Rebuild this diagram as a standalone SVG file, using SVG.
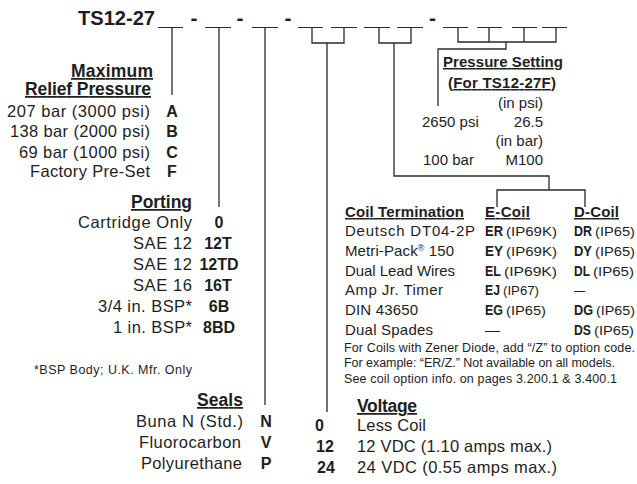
<svg xmlns="http://www.w3.org/2000/svg" width="637" height="484" viewBox="0 0 637 484">
<style>
text{font-family:"Liberation Sans",Arial,Helvetica,sans-serif;fill:#1e1e1e}
.r{font-size:16.5px}
.h{font-size:17.5px;font-weight:bold;text-decoration:underline}
.hs{font-size:15px;font-weight:bold;text-decoration:underline}
.b{font-weight:bold}
.c{font-size:16px;font-weight:bold}
.s{font-size:15px}
.k{font-size:15.5px;font-weight:bold}
.p{font-size:12px}
.f{font-size:12.5px}
.e{text-anchor:end}
.m{text-anchor:middle}
.ln{stroke:#2a2a2a;stroke-width:1.3;fill:none}
.bl{stroke:#2a2a2a;stroke-width:1;fill:none}
</style>
<rect width="637" height="484" fill="#fff"/>

<g id="model-code">
<text x="78" y="25" font-size="21" class="b" textLength="77" lengthAdjust="spacingAndGlyphs">TS12-27</text>
<text x="194" y="25" font-size="21" class="b m">-</text>
<text x="240" y="25" font-size="21" class="b m">-</text>
<text x="288" y="25" font-size="21" class="b m">-</text>
<text x="432.5" y="25" font-size="21" class="b m">-</text>
<path class="bl" d="M158 27.5H183M205 27.5H231M252 27.5H278M298 27.5H323M331 27.5H357M364 27.5H390M397 27.5H423M443 27.5H468M477 27.5H502M512 27.5H537M542 27.5H567"/>
</g>

<g id="connectors">
<path class="ln" d="M172 27.5V95"/>
<path class="ln" d="M219 27.5V207"/>
<path class="ln" d="M265 27.5V405"/>
<path class="ln" d="M312 27.5V43H344V27.5M327 43V412"/>
<path class="ln" d="M379 27.5V43H411V27.5M394 43V176H549V190M497 207V190H585V207"/>
<path class="ln" d="M458 27.5V42H556V27.5M489 27.5V42M524 27.5V42M506 42V49H438V106"/>
</g>

<g id="relief-pressure">
<text x="153" y="77" class="h e" textLength="82">Maximum</text>
<text x="151" y="95" class="h e" textLength="126">Relief Pressure</text>
<text x="150" y="117" class="r e" textLength="143">207 bar (3000 psi)</text>
<text x="150" y="137" class="r e" textLength="140">138 bar (2000 psi)</text>
<text x="150" y="158" class="r e" textLength="131">69 bar (1000 psi)</text>
<text x="150" y="177" class="r e" textLength="120">Factory Pre-Set</text>
<text x="172" y="117" class="c m">A</text>
<text x="172" y="137" class="c m">B</text>
<text x="172" y="158" class="c m">C</text>
<text x="172" y="177" class="c m">F</text>
</g>

<g id="porting">
<text x="192" y="208" class="h e" textLength="61">Porting</text>
<text x="192" y="228" class="r e" textLength="114">Cartridge Only</text>
<text x="192" y="249" class="r e" textLength="59">SAE 12</text>
<text x="192" y="270" class="r e" textLength="59">SAE 12</text>
<text x="192" y="291" class="r e" textLength="59">SAE 16</text>
<text x="192" y="312" class="r e" textLength="94">3/4 in. BSP*</text>
<text x="192" y="333" class="r e" textLength="79">1 in. BSP*</text>
<text x="219" y="228" class="c m">0</text>
<text x="218" y="249" class="c m">12T</text>
<text x="219" y="270" class="c m">12TD</text>
<text x="218" y="291" class="c m">16T</text>
<text x="219" y="312" class="c m">6B</text>
<text x="219" y="333" class="c m">8BD</text>
<text x="34" y="374" class="f" textLength="158">*BSP Body; U.K. Mfr. Only</text>
</g>

<g id="seals">
<text x="243" y="406" class="h e" textLength="46">Seals</text>
<text x="243" y="427" class="r e" textLength="107">Buna N (Std.)</text>
<text x="241" y="448" class="r e" textLength="102">Fluorocarbon</text>
<text x="242" y="469" class="r e" textLength="101">Polyurethane</text>
<text x="266" y="427" class="c m">N</text>
<text x="266" y="448" class="c m">V</text>
<text x="266" y="469" class="c m">P</text>
</g>

<g id="pressure-setting">
<text x="443" y="67" class="hs" textLength="120">Pressure Setting</text>
<text x="448" y="88" class="hs" textLength="108">(For TS12-27F)</text>
<text x="543" y="108" class="s e">(in psi)</text>
<text x="422" y="127" class="s">2650 psi</text>
<text x="543" y="127" class="s e">26.5</text>
<text x="543" y="146" class="s e">(in bar)</text>
<text x="423" y="165" class="s">100 bar</text>
<text x="543" y="165" class="s e">M100</text>
</g>

<g id="coil-termination">
<text x="345" y="217" class="hs" textLength="119">Coil Termination</text>
<text x="485" y="217" class="hs" textLength="45">E-Coil</text>
<text x="574" y="217" class="hs" textLength="45">D-Coil</text>
<text x="345" y="236" class="s" textLength="130">Deutsch DT04-2P</text>
<text x="345" y="256" class="s" textLength="109">Metri-Pack<tspan font-size="9" dy="-5">®</tspan><tspan dy="5"> 150</tspan></text>
<text x="345" y="276" class="s" textLength="110">Dual Lead Wires</text>
<text x="345" y="295" class="s" textLength="98">Amp Jr. Timer</text>
<text x="345" y="315" class="s" textLength="73">DIN 43650</text>
<text x="345" y="335" class="s" textLength="88">Dual Spades</text>
<text x="485" y="236" class="k" textLength="18" lengthAdjust="spacingAndGlyphs">ER</text><text x="506" y="236" class="p" textLength="51" lengthAdjust="spacingAndGlyphs">(IP69K)</text>
<text x="485" y="256" class="k" textLength="18" lengthAdjust="spacingAndGlyphs">EY</text><text x="506" y="256" class="p" textLength="51" lengthAdjust="spacingAndGlyphs">(IP69K)</text>
<text x="485" y="276" class="k" textLength="16" lengthAdjust="spacingAndGlyphs">EL</text><text x="504" y="276" class="p" textLength="53" lengthAdjust="spacingAndGlyphs">(IP69K)</text>
<text x="485" y="295" class="k" textLength="15" lengthAdjust="spacingAndGlyphs">EJ</text><text x="503" y="295" class="p" textLength="36" lengthAdjust="spacingAndGlyphs">(IP67)</text>
<text x="485" y="315" class="k" textLength="18" lengthAdjust="spacingAndGlyphs">EG</text><text x="506" y="315" class="p" textLength="40" lengthAdjust="spacingAndGlyphs">(IP65)</text>
<text x="485" y="335" class="s" textLength="15" lengthAdjust="spacingAndGlyphs">—</text>
<text x="574" y="236" class="k" textLength="18" lengthAdjust="spacingAndGlyphs">DR</text><text x="595" y="236" class="p" textLength="40" lengthAdjust="spacingAndGlyphs">(IP65)</text>
<text x="574" y="256" class="k" textLength="18" lengthAdjust="spacingAndGlyphs">DY</text><text x="595" y="256" class="p" textLength="40" lengthAdjust="spacingAndGlyphs">(IP65)</text>
<text x="574" y="276" class="k" textLength="16" lengthAdjust="spacingAndGlyphs">DL</text><text x="593" y="276" class="p" textLength="41" lengthAdjust="spacingAndGlyphs">(IP65)</text>
<text x="574" y="295" class="s" textLength="11" lengthAdjust="spacingAndGlyphs">—</text>
<text x="574" y="315" class="k" textLength="19" lengthAdjust="spacingAndGlyphs">DG</text><text x="596" y="315" class="p" textLength="39" lengthAdjust="spacingAndGlyphs">(IP65)</text>
<text x="574" y="335" class="k" textLength="17" lengthAdjust="spacingAndGlyphs">DS</text><text x="594" y="335" class="p" textLength="40" lengthAdjust="spacingAndGlyphs">(IP65)</text>
<text x="344" y="352" class="f" textLength="291">For Coils with Zener Diode, add “/Z” to option code.</text>
<text x="344" y="367" class="f" textLength="271">For example: “ER/Z.” Not available on all models.</text>
<text x="344" y="383" class="f" textLength="273">See coil option info. on pages 3.200.1 &amp; 3.400.1</text>
</g>

<g id="voltage">
<text x="357" y="412" class="h" textLength="60">Voltage</text>
<text x="315" y="431" class="c">0</text>
<text x="316" y="452" class="c">12</text>
<text x="317" y="473" class="c">24</text>
<text x="357" y="431" class="r" textLength="69">Less Coil</text>
<text x="357" y="452" class="r" textLength="195">12 VDC (1.10 amps max.)</text>
<text x="357" y="473" class="r" textLength="200">24 VDC (0.55 amps max.)</text>
</g>
</svg>
